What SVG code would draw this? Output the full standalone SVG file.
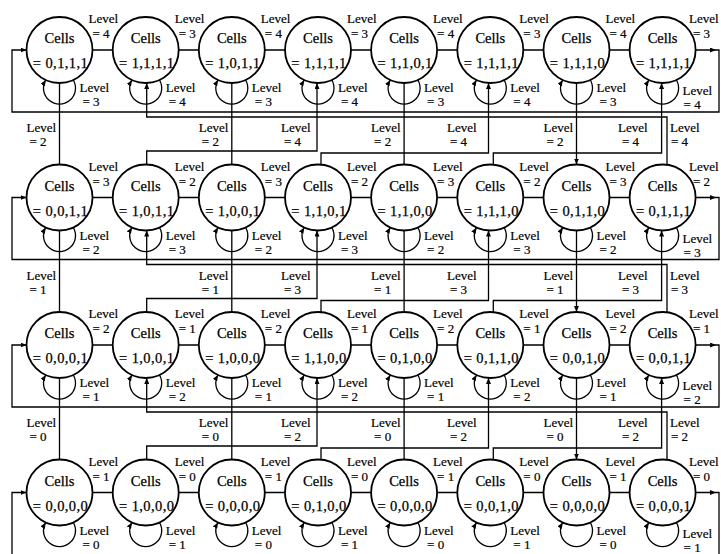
<svg xmlns="http://www.w3.org/2000/svg" width="721" height="554" viewBox="0 0 721 554" font-family="'Liberation Serif','DejaVu Serif','Times New Roman',serif">
<style>
.n circle{fill:#fff;stroke:#000;stroke-width:1.8}
.n text{font-family:'Liberation Serif','DejaVu Serif',serif;font-size:14.5px;text-anchor:middle;fill:#000;stroke:#000;stroke-width:.25}
.n .v{letter-spacing:.4px}
.c path{fill:none;stroke:#000;stroke-width:1.3}
.c .a{marker-end:url(#ah)}
.lb text{font-family:'Liberation Serif','DejaVu Serif',serif;font-size:13px;fill:#000;stroke:#000;stroke-width:.2}
</style>
<defs>
<marker id="ah" viewBox="0 0 6 5" refX="6" refY="2.5" markerWidth="6" markerHeight="5" markerUnits="userSpaceOnUse" orient="auto"><path d="M0,0 L6,2.5 L0,5 z" fill="#000"/></marker>
</defs>
<rect width="721" height="554" fill="#fff"/>
<g id="nodes">
<g id="n-0-0" class="n" transform="translate(59.5 50)"><circle r="33"/><text y="-7">Cells</text><text class="v" x="1" y="18">= 0,1,1,1</text></g>
<g id="n-0-1" class="n" transform="translate(145.7 50)"><circle r="33"/><text y="-7">Cells</text><text class="v" x="1" y="18">= 1,1,1,1</text></g>
<g id="n-0-2" class="n" transform="translate(231.8 50)"><circle r="33"/><text y="-7">Cells</text><text class="v" x="1" y="18">= 1,0,1,1</text></g>
<g id="n-0-3" class="n" transform="translate(318 50)"><circle r="33"/><text y="-7">Cells</text><text class="v" x="1" y="18">= 1,1,1,1</text></g>
<g id="n-0-4" class="n" transform="translate(404.1 50)"><circle r="33"/><text y="-7">Cells</text><text class="v" x="1" y="18">= 1,1,0,1</text></g>
<g id="n-0-5" class="n" transform="translate(490.3 50)"><circle r="33"/><text y="-7">Cells</text><text class="v" x="1" y="18">= 1,1,1,1</text></g>
<g id="n-0-6" class="n" transform="translate(576.5 50)"><circle r="33"/><text y="-7">Cells</text><text class="v" x="1" y="18">= 1,1,1,0</text></g>
<g id="n-0-7" class="n" transform="translate(662.6 50)"><circle r="33"/><text y="-7">Cells</text><text class="v" x="1" y="18">= 1,1,1,1</text></g>
<g id="n-1-0" class="n" transform="translate(59.5 197.5)"><circle r="33"/><text y="-7">Cells</text><text class="v" x="1" y="18">= 0,0,1,1</text></g>
<g id="n-1-1" class="n" transform="translate(145.7 197.5)"><circle r="33"/><text y="-7">Cells</text><text class="v" x="1" y="18">= 1,0,1,1</text></g>
<g id="n-1-2" class="n" transform="translate(231.8 197.5)"><circle r="33"/><text y="-7">Cells</text><text class="v" x="1" y="18">= 1,0,0,1</text></g>
<g id="n-1-3" class="n" transform="translate(318 197.5)"><circle r="33"/><text y="-7">Cells</text><text class="v" x="1" y="18">= 1,1,0,1</text></g>
<g id="n-1-4" class="n" transform="translate(404.1 197.5)"><circle r="33"/><text y="-7">Cells</text><text class="v" x="1" y="18">= 1,1,0,0</text></g>
<g id="n-1-5" class="n" transform="translate(490.3 197.5)"><circle r="33"/><text y="-7">Cells</text><text class="v" x="1" y="18">= 1,1,1,0</text></g>
<g id="n-1-6" class="n" transform="translate(576.5 197.5)"><circle r="33"/><text y="-7">Cells</text><text class="v" x="1" y="18">= 0,1,1,0</text></g>
<g id="n-1-7" class="n" transform="translate(662.6 197.5)"><circle r="33"/><text y="-7">Cells</text><text class="v" x="1" y="18">= 0,1,1,1</text></g>
<g id="n-2-0" class="n" transform="translate(59.5 345)"><circle r="33"/><text y="-7">Cells</text><text class="v" x="1" y="18">= 0,0,0,1</text></g>
<g id="n-2-1" class="n" transform="translate(145.7 345)"><circle r="33"/><text y="-7">Cells</text><text class="v" x="1" y="18">= 1,0,0,1</text></g>
<g id="n-2-2" class="n" transform="translate(231.8 345)"><circle r="33"/><text y="-7">Cells</text><text class="v" x="1" y="18">= 1,0,0,0</text></g>
<g id="n-2-3" class="n" transform="translate(318 345)"><circle r="33"/><text y="-7">Cells</text><text class="v" x="1" y="18">= 1,1,0,0</text></g>
<g id="n-2-4" class="n" transform="translate(404.1 345)"><circle r="33"/><text y="-7">Cells</text><text class="v" x="1" y="18">= 0,1,0,0</text></g>
<g id="n-2-5" class="n" transform="translate(490.3 345)"><circle r="33"/><text y="-7">Cells</text><text class="v" x="1" y="18">= 0,1,1,0</text></g>
<g id="n-2-6" class="n" transform="translate(576.5 345)"><circle r="33"/><text y="-7">Cells</text><text class="v" x="1" y="18">= 0,0,1,0</text></g>
<g id="n-2-7" class="n" transform="translate(662.6 345)"><circle r="33"/><text y="-7">Cells</text><text class="v" x="1" y="18">= 0,0,1,1</text></g>
<g id="n-3-0" class="n" transform="translate(59.5 492.5)"><circle r="33"/><text y="-7">Cells</text><text class="v" x="1" y="18">= 0,0,0,0</text></g>
<g id="n-3-1" class="n" transform="translate(145.7 492.5)"><circle r="33"/><text y="-7">Cells</text><text class="v" x="1" y="18">= 1,0,0,0</text></g>
<g id="n-3-2" class="n" transform="translate(231.8 492.5)"><circle r="33"/><text y="-7">Cells</text><text class="v" x="1" y="18">= 0,0,0,0</text></g>
<g id="n-3-3" class="n" transform="translate(318 492.5)"><circle r="33"/><text y="-7">Cells</text><text class="v" x="1" y="18">= 0,1,0,0</text></g>
<g id="n-3-4" class="n" transform="translate(404.1 492.5)"><circle r="33"/><text y="-7">Cells</text><text class="v" x="1" y="18">= 0,0,0,0</text></g>
<g id="n-3-5" class="n" transform="translate(490.3 492.5)"><circle r="33"/><text y="-7">Cells</text><text class="v" x="1" y="18">= 0,0,1,0</text></g>
<g id="n-3-6" class="n" transform="translate(576.5 492.5)"><circle r="33"/><text y="-7">Cells</text><text class="v" x="1" y="18">= 0,0,0,0</text></g>
<g id="n-3-7" class="n" transform="translate(662.6 492.5)"><circle r="33"/><text y="-7">Cells</text><text class="v" x="1" y="18">= 0,0,0,1</text></g>
</g>
<g id="connectors" class="c">
<path class="a" d="M92.5 50H112.7M178.7 50H198.8M264.8 50H285M351 50H371.1M437.1 50H457.3M523.3 50H543.5M609.5 50H629.6M695.6 50H716"/>
<path class="a" d="M92.5 197.5H112.7M178.7 197.5H198.8M264.8 197.5H285M351 197.5H371.1M437.1 197.5H457.3M523.3 197.5H543.5M609.5 197.5H629.6M695.6 197.5H716"/>
<path class="a" d="M92.5 345H112.7M178.7 345H198.8M264.8 345H285M351 345H371.1M437.1 345H457.3M523.3 345H543.5M609.5 345H629.6M695.6 345H716"/>
<path class="a" d="M92.5 492.5H112.7M178.7 492.5H198.8M264.8 492.5H285M351 492.5H371.1M437.1 492.5H457.3M523.3 492.5H543.5M609.5 492.5H629.6M695.6 492.5H716"/>
<path class="a" d="M716 50H719V112H12V50H26.5"/>
<path class="a" d="M716 197.5H719V259.5H12V197.5H26.5"/>
<path class="a" d="M716 345H719V407H12V345H26.5"/>
<path d="M716 492.5H719V556"/>
<path class="a" d="M12 556V492.5H26.5"/>
<path class="a" d="M73.3 80A16 16 0 1 1 45.7 80"/>
<path class="a" d="M159.5 80A16 16 0 1 1 131.9 80"/>
<path class="a" d="M245.6 80A16 16 0 1 1 218 80"/>
<path class="a" d="M331.8 80A16 16 0 1 1 304.2 80"/>
<path class="a" d="M417.9 80A16 16 0 1 1 390.3 80"/>
<path class="a" d="M504.1 80A16 16 0 1 1 476.5 80"/>
<path class="a" d="M590.3 80A16 16 0 1 1 562.7 80"/>
<path class="a" d="M676.4 80A16 16 0 1 1 648.8 80"/>
<path class="a" d="M73.3 227.5A16 16 0 1 1 45.7 227.5"/>
<path class="a" d="M159.5 227.5A16 16 0 1 1 131.9 227.5"/>
<path class="a" d="M245.6 227.5A16 16 0 1 1 218 227.5"/>
<path class="a" d="M331.8 227.5A16 16 0 1 1 304.2 227.5"/>
<path class="a" d="M417.9 227.5A16 16 0 1 1 390.3 227.5"/>
<path class="a" d="M504.1 227.5A16 16 0 1 1 476.5 227.5"/>
<path class="a" d="M590.3 227.5A16 16 0 1 1 562.7 227.5"/>
<path class="a" d="M676.4 227.5A16 16 0 1 1 648.8 227.5"/>
<path class="a" d="M73.3 375A16 16 0 1 1 45.7 375"/>
<path class="a" d="M159.5 375A16 16 0 1 1 131.9 375"/>
<path class="a" d="M245.6 375A16 16 0 1 1 218 375"/>
<path class="a" d="M331.8 375A16 16 0 1 1 304.2 375"/>
<path class="a" d="M417.9 375A16 16 0 1 1 390.3 375"/>
<path class="a" d="M504.1 375A16 16 0 1 1 476.5 375"/>
<path class="a" d="M590.3 375A16 16 0 1 1 562.7 375"/>
<path class="a" d="M676.4 375A16 16 0 1 1 648.8 375"/>
<path class="a" d="M73.3 522.5A16 16 0 1 1 45.7 522.5"/>
<path class="a" d="M159.5 522.5A16 16 0 1 1 131.9 522.5"/>
<path class="a" d="M245.6 522.5A16 16 0 1 1 218 522.5"/>
<path class="a" d="M331.8 522.5A16 16 0 1 1 304.2 522.5"/>
<path class="a" d="M417.9 522.5A16 16 0 1 1 390.3 522.5"/>
<path class="a" d="M504.1 522.5A16 16 0 1 1 476.5 522.5"/>
<path class="a" d="M590.3 522.5A16 16 0 1 1 562.7 522.5"/>
<path class="a" d="M676.4 522.5A16 16 0 1 1 648.8 522.5"/>
<path class="a" d="M59.5 83V164.5M231.8 83V164.5M404.1 83V164.5M576.5 83V164.5"/>
<path class="a" d="M59.5 230.5V312M231.8 230.5V312M404.1 230.5V312M576.5 230.5V312"/>
<path class="a" d="M59.5 378V459.5M231.8 378V459.5M404.1 378V459.5M576.5 378V459.5"/>
<path class="a" d="M146.7 164.5V151H317V83"/>
<path class="a" d="M321 164.5V153H488.5V83"/>
<path class="a" d="M493.3 164.5V153H661.6V83"/>
<path class="a" d="M667 164.5V117H146.7V83"/>
<path class="a" d="M146.7 312V298.5H317V230.5"/>
<path class="a" d="M321 312V300.5H488.5V230.5"/>
<path class="a" d="M493.3 312V300.5H661.6V230.5"/>
<path class="a" d="M667 312V264.5H146.7V230.5"/>
<path class="a" d="M146.7 459.5V446H317V378"/>
<path class="a" d="M321 459.5V448H488.5V378"/>
<path class="a" d="M493.3 459.5V448H661.6V378"/>
<path class="a" d="M667 459.5V412H146.7V378"/>
</g>
<g id="labels" class="lb">
<text x="88.5" y="23">Level<tspan x="92.5" dy="15">= 4</tspan></text>
<text x="174.7" y="23">Level<tspan x="178.7" dy="15">= 3</tspan></text>
<text x="260.8" y="23">Level<tspan x="264.8" dy="15">= 4</tspan></text>
<text x="347" y="23">Level<tspan x="351" dy="15">= 3</tspan></text>
<text x="433.1" y="23">Level<tspan x="437.1" dy="15">= 4</tspan></text>
<text x="519.3" y="23">Level<tspan x="523.3" dy="15">= 3</tspan></text>
<text x="605.5" y="23">Level<tspan x="609.5" dy="15">= 4</tspan></text>
<text x="689" y="23">Level<tspan x="693" dy="15">= 3</tspan></text>
<text x="88.5" y="170.5">Level<tspan x="92.5" dy="15">= 3</tspan></text>
<text x="174.7" y="170.5">Level<tspan x="178.7" dy="15">= 2</tspan></text>
<text x="260.8" y="170.5">Level<tspan x="264.8" dy="15">= 3</tspan></text>
<text x="347" y="170.5">Level<tspan x="351" dy="15">= 2</tspan></text>
<text x="433.1" y="170.5">Level<tspan x="437.1" dy="15">= 3</tspan></text>
<text x="519.3" y="170.5">Level<tspan x="523.3" dy="15">= 2</tspan></text>
<text x="605.5" y="170.5">Level<tspan x="609.5" dy="15">= 3</tspan></text>
<text x="689" y="170.5">Level<tspan x="693" dy="15">= 2</tspan></text>
<text x="88.5" y="318">Level<tspan x="92.5" dy="15">= 2</tspan></text>
<text x="174.7" y="318">Level<tspan x="178.7" dy="15">= 1</tspan></text>
<text x="260.8" y="318">Level<tspan x="264.8" dy="15">= 2</tspan></text>
<text x="347" y="318">Level<tspan x="351" dy="15">= 1</tspan></text>
<text x="433.1" y="318">Level<tspan x="437.1" dy="15">= 2</tspan></text>
<text x="519.3" y="318">Level<tspan x="523.3" dy="15">= 1</tspan></text>
<text x="605.5" y="318">Level<tspan x="609.5" dy="15">= 2</tspan></text>
<text x="689" y="318">Level<tspan x="693" dy="15">= 1</tspan></text>
<text x="88.5" y="465.5">Level<tspan x="92.5" dy="15">= 1</tspan></text>
<text x="174.7" y="465.5">Level<tspan x="178.7" dy="15">= 0</tspan></text>
<text x="260.8" y="465.5">Level<tspan x="264.8" dy="15">= 1</tspan></text>
<text x="347" y="465.5">Level<tspan x="351" dy="15">= 0</tspan></text>
<text x="433.1" y="465.5">Level<tspan x="437.1" dy="15">= 1</tspan></text>
<text x="519.3" y="465.5">Level<tspan x="523.3" dy="15">= 0</tspan></text>
<text x="605.5" y="465.5">Level<tspan x="609.5" dy="15">= 1</tspan></text>
<text x="689" y="465.5">Level<tspan x="693" dy="15">= 0</tspan></text>
<text x="79.5" y="92">Level<tspan x="82.5" dy="14">= 3</tspan></text>
<text x="165.7" y="92">Level<tspan x="168.7" dy="14">= 4</tspan></text>
<text x="251.8" y="92">Level<tspan x="254.8" dy="14">= 3</tspan></text>
<text x="338" y="92">Level<tspan x="341" dy="14">= 4</tspan></text>
<text x="424.1" y="92">Level<tspan x="427.1" dy="14">= 3</tspan></text>
<text x="510.3" y="92">Level<tspan x="513.3" dy="14">= 4</tspan></text>
<text x="596.5" y="92">Level<tspan x="599.5" dy="14">= 3</tspan></text>
<text x="682.6" y="95">Level<tspan x="683.6" dy="14">= 4</tspan></text>
<text x="79.5" y="239.5">Level<tspan x="82.5" dy="14">= 2</tspan></text>
<text x="165.7" y="239.5">Level<tspan x="168.7" dy="14">= 3</tspan></text>
<text x="251.8" y="239.5">Level<tspan x="254.8" dy="14">= 2</tspan></text>
<text x="338" y="239.5">Level<tspan x="341" dy="14">= 3</tspan></text>
<text x="424.1" y="239.5">Level<tspan x="427.1" dy="14">= 2</tspan></text>
<text x="510.3" y="239.5">Level<tspan x="513.3" dy="14">= 3</tspan></text>
<text x="596.5" y="239.5">Level<tspan x="599.5" dy="14">= 2</tspan></text>
<text x="682.6" y="242.5">Level<tspan x="683.6" dy="14">= 3</tspan></text>
<text x="79.5" y="387">Level<tspan x="82.5" dy="14">= 1</tspan></text>
<text x="165.7" y="387">Level<tspan x="168.7" dy="14">= 2</tspan></text>
<text x="251.8" y="387">Level<tspan x="254.8" dy="14">= 1</tspan></text>
<text x="338" y="387">Level<tspan x="341" dy="14">= 2</tspan></text>
<text x="424.1" y="387">Level<tspan x="427.1" dy="14">= 1</tspan></text>
<text x="510.3" y="387">Level<tspan x="513.3" dy="14">= 2</tspan></text>
<text x="596.5" y="387">Level<tspan x="599.5" dy="14">= 1</tspan></text>
<text x="682.6" y="390">Level<tspan x="683.6" dy="14">= 2</tspan></text>
<text x="79.5" y="534.5">Level<tspan x="82.5" dy="14">= 0</tspan></text>
<text x="165.7" y="534.5">Level<tspan x="168.7" dy="14">= 1</tspan></text>
<text x="251.8" y="534.5">Level<tspan x="254.8" dy="14">= 0</tspan></text>
<text x="338" y="534.5">Level<tspan x="341" dy="14">= 1</tspan></text>
<text x="424.1" y="534.5">Level<tspan x="427.1" dy="14">= 0</tspan></text>
<text x="510.3" y="534.5">Level<tspan x="513.3" dy="14">= 1</tspan></text>
<text x="596.5" y="534.5">Level<tspan x="599.5" dy="14">= 0</tspan></text>
<text x="682.6" y="537.5">Level<tspan x="683.6" dy="14">= 1</tspan></text>
<text x="26.5" y="132">Level<tspan x="29.5" dy="14">= 2</tspan></text>
<text x="198.8" y="132">Level<tspan x="201.8" dy="14">= 2</tspan></text>
<text x="371.1" y="132">Level<tspan x="374.1" dy="14">= 2</tspan></text>
<text x="543.5" y="132">Level<tspan x="546.5" dy="14">= 2</tspan></text>
<text x="281" y="132">Level<tspan x="284" dy="14">= 4</tspan></text>
<text x="447" y="132">Level<tspan x="450" dy="14">= 4</tspan></text>
<text x="618" y="132">Level<tspan x="622" dy="14">= 4</tspan></text>
<text x="670" y="132">Level<tspan x="671" dy="14">= 4</tspan></text>
<text x="26.5" y="279.5">Level<tspan x="29.5" dy="14">= 1</tspan></text>
<text x="198.8" y="279.5">Level<tspan x="201.8" dy="14">= 1</tspan></text>
<text x="371.1" y="279.5">Level<tspan x="374.1" dy="14">= 1</tspan></text>
<text x="543.5" y="279.5">Level<tspan x="546.5" dy="14">= 1</tspan></text>
<text x="281" y="279.5">Level<tspan x="284" dy="14">= 3</tspan></text>
<text x="447" y="279.5">Level<tspan x="450" dy="14">= 3</tspan></text>
<text x="618" y="279.5">Level<tspan x="622" dy="14">= 3</tspan></text>
<text x="670" y="279.5">Level<tspan x="671" dy="14">= 3</tspan></text>
<text x="26.5" y="427">Level<tspan x="29.5" dy="14">= 0</tspan></text>
<text x="198.8" y="427">Level<tspan x="201.8" dy="14">= 0</tspan></text>
<text x="371.1" y="427">Level<tspan x="374.1" dy="14">= 0</tspan></text>
<text x="543.5" y="427">Level<tspan x="546.5" dy="14">= 0</tspan></text>
<text x="281" y="427">Level<tspan x="284" dy="14">= 2</tspan></text>
<text x="447" y="427">Level<tspan x="450" dy="14">= 2</tspan></text>
<text x="618" y="427">Level<tspan x="622" dy="14">= 2</tspan></text>
<text x="670" y="427">Level<tspan x="671" dy="14">= 2</tspan></text>
</g>
</svg>
